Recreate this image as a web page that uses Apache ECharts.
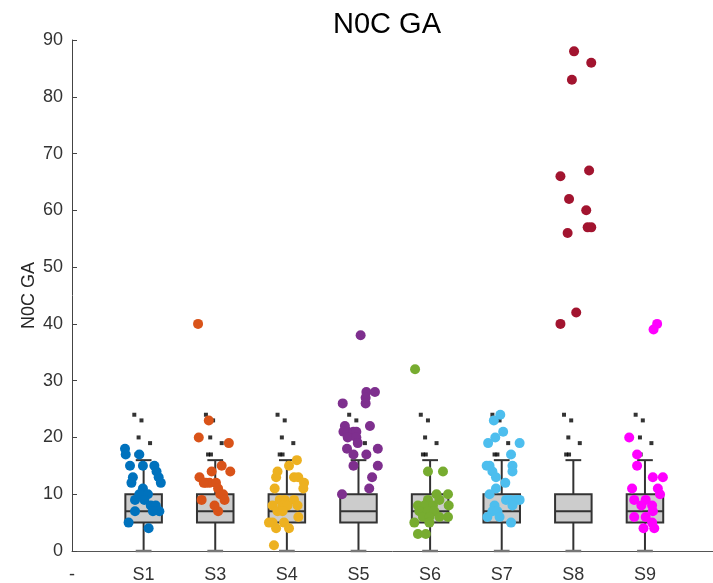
<!DOCTYPE html>
<html>
<head>
<meta charset="utf-8">
<script src="https://cdn.jsdelivr.net/npm/echarts@6/dist/echarts.min.js"></script>
<style>html,body{margin:0;padding:0;background:#fff;}#c{width:713px;height:583px;}</style>
</head>
<body>
<div id="c"></div>
<script>
// ---- data ----
var tickLabels = ['-', 'S1', 'S3', 'S4', 'S5', 'S6', 'S7', 'S8', 'S9'];
var groups = ['S1', 'S3', 'S4', 'S5', 'S6', 'S7', 'S8', 'S9'];
var groupColors = ['#0072BD', '#D95319', '#EDB120', '#7E2F8E', '#77AC30', '#4DBEEE', '#A2142F', '#FF00FF'];
// box statistics (same for every group): [min, q1, median, q3, max]
var boxStats = [0, 5, 7, 10, 16];
// box outliers (value, jitter within category)
var outlierValues = [24, 23, 20, 19, 17, 17];
var outlierJitter = [-0.13, -0.03, -0.07, 0.09, -0.10, -0.06];
// points per group: [jitter, value]
var S1 = [[-0.26,18],[-0.25,17],[-0.06,17],[-0.01,15],[-0.19,15],[0.15,15],[0.18,14],[0.21,13],[-0.15,13],[-0.17,12],[0.24,12],[-0.01,11],[0.01,10],[-0.06,10],[0.06,10],[-0.12,9],[0.01,9],[0.10,8],[0.17,8],[0.22,7],[-0.12,7],[0.13,7],[-0.21,5],[0.07,4]];
var S3 = [[-0.24,40],[-0.09,23],[-0.23,20],[0.19,19],[0.09,15],[0.21,14],[-0.05,14],[-0.22,13],[-0.13,12],[-0.08,12],[-0.16,12],[0.01,12],[0.04,11],[0.07,10],[0.11,10],[-0.19,9],[0.13,9],[-0.01,8],[0.04,7]];
var S4 = [[0.14,16],[0.03,15],[-0.13,14],[-0.15,13],[0.10,13],[0.16,13],[0.24,12],[0.23,11],[-0.17,11],[-0.10,9],[-0.03,9],[0.10,9],[-0.20,8],[0.15,8],[-0.06,8],[0.01,8],[-0.13,7],[-0.06,7],[0.16,6],[-0.25,5],[-0.20,5],[-0.04,5],[-0.15,4],[0.03,4],[-0.18,1]];
var S5 = [[0.03,38],[0.11,28],[0.23,28],[0.10,27],[0.10,26],[-0.22,26],[-0.19,22],[0.16,22],[-0.21,21],[-0.15,21],[-0.07,21],[-0.03,21],[-0.15,20],[-0.03,20],[-0.01,19],[-0.16,18],[0.27,18],[-0.07,17],[0.11,17],[-0.07,15],[0.27,15],[0.19,13],[0.15,11],[-0.23,10]];
var S6 = [[-0.21,32],[-0.03,14],[0.18,14],[-0.03,9],[0.09,10],[0.25,10],[-0.17,8],[-0.08,8],[0.04,8],[0.13,9],[0.26,8],[-0.15,7],[-0.03,7],[0.06,7],[0.13,6],[0.25,6],[-0.10,6],[-0.01,6],[-0.22,5],[-0.01,5],[-0.17,3],[-0.06,3]];
var S7 = [[-0.02,24],[-0.11,23],[0.02,21],[-0.09,20],[-0.19,19],[0.25,19],[0.13,17],[-0.21,15],[-0.17,15],[0.15,15],[-0.13,14],[0.15,14],[-0.08,13],[0.05,12],[-0.08,11],[-0.17,10],[0.06,9],[0.12,9],[0.20,9],[0.25,9],[-0.10,8],[0.15,8],[-0.13,7],[-0.06,7],[-0.20,6],[-0.03,6],[0.13,5]];
var S8 = [[0.01,88],[0.25,86],[-0.02,83],[0.22,67],[-0.18,66],[-0.06,62],[0.18,60],[0.20,57],[0.25,57],[-0.08,56],[0.04,42],[-0.18,40]];
var S9 = [[0.17,40],[0.12,39],[-0.22,20],[-0.11,17],[-0.11,15],[0.11,13],[0.25,13],[-0.18,11],[0.18,11],[0.21,10],[-0.15,9],[0.01,9],[-0.05,8],[0.10,8],[0.11,7],[-0.15,6],[0.01,6],[0.10,5],[-0.02,4],[0.13,4]];
var groupPoints = [S1, S3, S4, S5, S6, S7, S8, S9];

// ---- build ----
var boxData = groups.map(function (g, i) {
  return [i + 1].concat(boxStats);
});
var outlierData = [];
groups.forEach(function (g, i) {
  outlierValues.forEach(function (v, k) {
    outlierData.push([i + 1 + outlierJitter[k], v]);
  });
});

var series = [{
  type: 'custom',
  z: 2,
  renderItem: function (params, api) {
    var x = api.value(0);
    var pMin = api.coord([x, api.value(1)]);
    var pQ1 = api.coord([x, api.value(2)]);
    var pMed = api.coord([x, api.value(3)]);
    var pQ3 = api.coord([x, api.value(4)]);
    var pMax = api.coord([x, api.value(5)]);
    var hw = api.size([0.255, 0])[0];
    var cw = api.size([0.11, 0])[0];
    var cx = pMed[0];
    var st = { stroke: '#333333', lineWidth: 2, fill: null };
    return {
      type: 'group',
      children: [
        { type: 'line', shape: { x1: cx, y1: pQ3[1], x2: cx, y2: pMax[1] }, style: st },
        { type: 'line', shape: { x1: cx, y1: pQ1[1], x2: cx, y2: pMin[1] }, style: st },
        { type: 'line', shape: { x1: cx - cw, y1: pMax[1], x2: cx + cw, y2: pMax[1] }, style: st },
        { type: 'line', shape: { x1: cx - cw, y1: pMin[1], x2: cx + cw, y2: pMin[1] }, style: { stroke: '#777777', lineWidth: 2.5 } },
        { type: 'rect', shape: { x: cx - hw, y: pQ3[1], width: 2 * hw, height: pQ1[1] - pQ3[1] }, style: { fill: '#cccccc', stroke: '#333333', lineWidth: 2 } },
        { type: 'line', shape: { x1: cx - hw, y1: pMed[1], x2: cx + hw, y2: pMed[1] }, style: st }
      ]
    };
  },
  data: boxData,
  silent: true
}, {
  type: 'scatter',
  z: 3,
  symbol: 'rect',
  symbolSize: 4,
  itemStyle: { color: '#000000' },
  data: outlierData,
  silent: true
}];

groups.forEach(function (g, i) {
  series.push({
    type: 'scatter',
    name: g,
    z: 4,
    symbolSize: 10,
    itemStyle: { color: groupColors[i], opacity: 1 },
    data: groupPoints[i].map(function (p) { return [i + 1 + p[0], p[1]]; }),
    silent: true
  });
});

var chart = echarts.init(document.getElementById('c'), null, { renderer: 'canvas' });
chart.setOption({
  animation: false,
  backgroundColor: '#ffffff',
  textStyle: { fontFamily: 'Liberation Sans, Arial, sans-serif' },
  title: {
    text: 'N0C GA',
    left: 382,
    textAlign: 'center',
    top: 5,
    textStyle: { fontSize: 29, fontWeight: 'normal', color: '#000000', fontFamily: 'Liberation Sans, Arial, sans-serif' }
  },
  grid: { left: 72, right: 0, top: 40, bottom: 32, outerBoundsMode: 'none', containLabel: false },
  xAxis: {
    type: 'value',
    min: 0,
    max: 8.95,
    interval: 1,
    splitLine: { show: false },
    axisTick: { show: false },
    axisLine: { lineStyle: { color: '#555555', width: 1 } },
    axisLabel: {
      fontSize: 18,
      color: '#333333',
      margin: 15,
      showMaxLabel: false,
      formatter: function (v) {
        if (Math.abs(v - Math.round(v)) > 1e-6) return '';
        return tickLabels[Math.round(v)] || '';
      }
    }
  },
  yAxis: {
    type: 'value',
    min: 0,
    max: 90,
    interval: 10,
    name: 'N0C GA',
    nameLocation: 'middle',
    nameGap: 34,
    nameMoveOverlap: false,
    nameTextStyle: { fontSize: 18, color: '#262626' },
    splitLine: { show: false },
    axisLine: { show: true, lineStyle: { color: '#444444', width: 1 } },
    axisTick: { show: true, inside: true, length: 5, lineStyle: { color: '#444444' } },
    axisLabel: { fontSize: 18, color: '#333333', margin: 9 }
  },
  series: series
});
</script>
</body>
</html>
